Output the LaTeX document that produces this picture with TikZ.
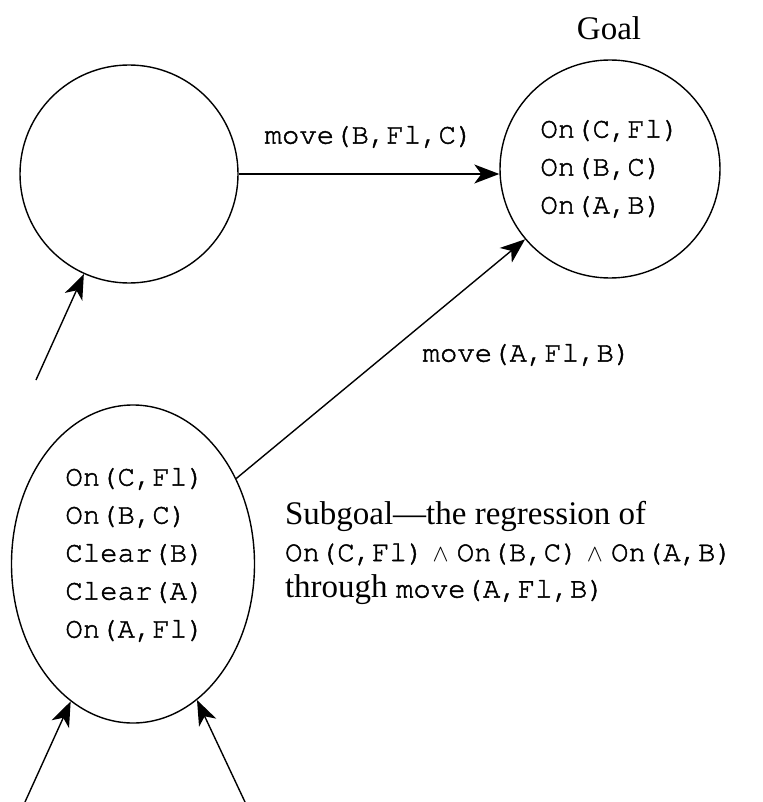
\documentclass[tikz,border=0pt]{standalone}
\usepackage{fontspec}
\setmainfont{Liberation Serif}
\setmonofont[FakeBold=1.6]{TeX Gyre Cursor}
\usetikzlibrary{arrows.meta,shapes.geometric}
% typewriter text at the size used for predicates
\newcommand\predtext[1]{{\fontsize{14.5}{18}\ttfamily #1}}
% small conjunction sign between predicates
\newcommand\conj{{\fontsize{13}{18}\selectfont$\wedge$}}
\begin{document}
\begin{tikzpicture}[x=0.5pt,y=-0.5pt,
  state/.style={draw,ellipse,line width=0.7pt,inner sep=0pt},
  conn/.style={-{Stealth[length=12.5pt,width=9.5pt,inset=3.5pt]},line width=0.7pt},
  tt/.style={font=\fontsize{14.5}{19}\ttfamily},
  rm/.style={font=\fontsize{16.5}{18.25}\selectfont}]
\useasboundingbox (0,0) rectangle (762,802);

% states
\node[state,tt,align=left,minimum width=110pt,minimum height=109pt] (goal) at (610,169)
  {On(C,Fl)\\On(B,C)\\On(A,B)};
\node[state,minimum width=109pt,minimum height=109pt] (s0) at (129,174) {};
\node[rm] (goallbl) at (609,28) {Goal};
\node[state,minimum width=121.5pt,minimum height=159pt] (sub) at (133,564) {};
\node[tt,align=left] (subtxt) at (135,555)
  {On(C,Fl)\\On(B,C)\\Clear(B)\\Clear(A)\\On(A,Fl)};

% action labels and note
\node[tt] (lab1) at (369,137) {move(B,Fl,C)};
\node[tt] (lab2) at (527,355) {move(A,Fl,B)};
\node[rm,align=left,anchor=west] (note) at (278,553)
  {Subgoal—the regression of\\
   \predtext{On(C,Fl)} \conj{} \predtext{On(B,C)} \conj{} \predtext{On(A,B)}\\
   through \predtext{move(A,Fl,B)}};

% loose ends of incoming connectors
\coordinate (a0) at (36,380);
\coordinate (b0) at (25,802);
\coordinate (b1) at (245,802);

% connectors
\draw[conn] (s0.east) -- (s0.east -| goal.west);
\draw[conn] (sub) -- (goal);
\draw[conn] (a0) -- (s0);
\draw[conn] (b0) -- (sub);
\draw[conn] (b1) -- (sub);
\end{tikzpicture}
\end{document}
